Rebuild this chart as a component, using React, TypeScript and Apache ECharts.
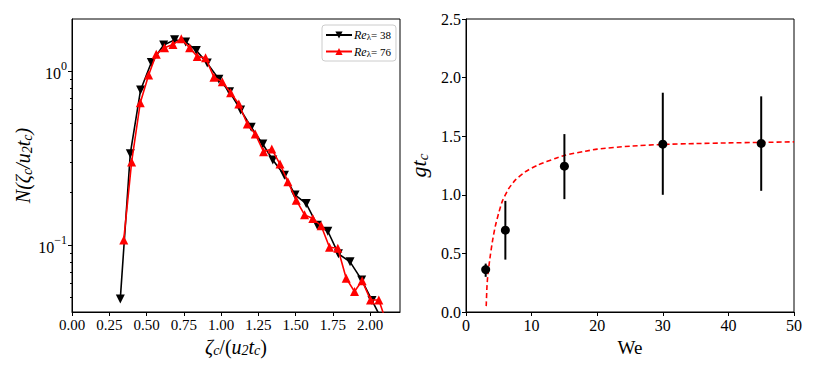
import React, { useEffect, useRef } from "react";
import * as echarts from "echarts";

// ---- Left panel data: N(zeta_c/(u2 tc)) ----
const zeta38 = [0.324, 0.391, 0.46, 0.532, 0.615, 0.688, 0.762, 0.834, 0.907, 0.985, 1.057, 1.131, 1.202, 1.28, 1.347, 1.425, 1.496, 1.571, 1.645, 1.716, 1.787, 1.865, 1.943, 2.012, 2.08];
const n38 = [0.049, 0.335, 0.778, 1.12, 1.41, 1.51, 1.47, 1.31, 1.11, 0.896, 0.76, 0.597, 0.475, 0.38, 0.308, 0.252, 0.194, 0.173, 0.13, 0.12, 0.089, 0.08, 0.063, 0.048, 0.037];
const zeta76 = [0.347, 0.4, 0.458, 0.514, 0.565, 0.621, 0.677, 0.733, 0.789, 0.84, 0.896, 0.952, 1.008, 1.064, 1.119, 1.176, 1.229, 1.285, 1.34, 1.395, 1.448, 1.504, 1.56, 1.615, 1.671, 1.727, 1.783, 1.839, 1.895, 1.946, 2.002, 2.058, 2.113];
const n76 = [0.107, 0.3, 0.657, 0.948, 1.25, 1.36, 1.42, 1.53, 1.36, 1.21, 1.19, 0.92, 0.868, 0.75, 0.646, 0.496, 0.435, 0.344, 0.356, 0.292, 0.231, 0.181, 0.149, 0.142, 0.129, 0.097, 0.0957, 0.0644, 0.054, 0.0624, 0.0483, 0.0483, 0.035];
const leftXTicks = [0, 0.25, 0.5, 0.75, 1.0, 1.25, 1.5, 1.75, 2.0];
const leftYMajor = [0.1, 1];
const leftYMinor = [0.05, 0.06, 0.07, 0.08, 0.09, 0.2, 0.3, 0.4, 0.5, 0.6, 0.7, 0.8, 0.9];
const legendNames = ["Re38", "Re76"];

// ---- Right panel data: g t_c vs We ----
const weValues = [3, 6, 15, 30, 45];
const gtc = [0.362, 0.698, 1.244, 1.432, 1.438];
const gtcLow = [0.3, 0.447, 0.963, 1.0, 1.034];
const gtcHigh = [0.413, 0.948, 1.518, 1.871, 1.84];
const fitWe = [3.08, 3.19, 3.3, 3.44, 3.7, 4.05, 4.46, 4.96, 5.57, 6.48, 7.5, 9.0, 11.0, 13.6, 15.1, 18.2, 20, 25, 30, 35, 40, 45, 50];
const fitG = [0.05, 0.21, 0.3, 0.37, 0.48, 0.61, 0.73, 0.84, 0.95, 1.05, 1.125, 1.195, 1.255, 1.31, 1.338, 1.372, 1.39, 1.415, 1.43, 1.437, 1.443, 1.447, 1.452];

const SERIF = "Liberation Serif";

const txt = (size: number, extra: any = {}) => ({ fontFamily: SERIF, fontSize: size, color: "#000", ...extra });

export default function App() {
  const ref = useRef<HTMLDivElement>(null);
  useEffect(() => {
    document.body.style.margin = "0";
    if (!ref.current) return;
    const chart = echarts.init(ref.current, null, { renderer: "svg" });
    const option: any = {
      animation: false,
      backgroundColor: "#fff",
      textStyle: { fontFamily: SERIF },
      grid: [
        { left: 72, top: 19, width: 328, height: 293, show: true, borderColor: "#000", borderWidth: 1, containLabel: false },
        { left: 466, top: 19, width: 328, height: 293, show: true, borderColor: "#000", borderWidth: 1, containLabel: false },
      ],
      legend: {
        data: legendNames,
        left: 322,
        top: 25,
        orient: "vertical",
        itemWidth: 26,
        itemHeight: 9,
        itemGap: 4,
        padding: [4, 5, 3, 3],
        borderColor: "#ccc",
        borderWidth: 1,
        borderRadius: 3,
        backgroundColor: "#fff",
        formatter: (name: string) => (name === "Re38" ? "{i|Re}{s|λ}{n|= 38}" : "{i|Re}{s|λ}{n|= 76}"),
        textStyle: {
          fontFamily: SERIF,
          fontSize: 11,
          color: "#000",
          padding: [0, 0, 0, -3],
          rich: {
            i: txt(12, { fontStyle: "italic", verticalAlign: "middle" }),
            s: txt(9, { verticalAlign: "bottom", padding: [4, 0, 0, 0] }),
            n: txt(11, { verticalAlign: "middle" }),
          },
        },
      },
      xAxis: [
        {
          gridIndex: 0,
          type: "value",
          min: 0,
          max: 2.2,
          splitLine: { show: false },
          axisLine: { show: true, lineStyle: { color: "#000", width: 1 } },
          axisTick: { show: true, length: 4, customValues: leftXTicks, lineStyle: { color: "#000" } },
          axisLabel: {
            margin: 5,
            customValues: leftXTicks,
            formatter: (v: number) => "{t|" + v.toFixed(2) + "}",
            rich: { t: txt(15) },
          },
          name: "{z|ζ}{s|c}{n|/(}{z|u}{s|2}{z|t}{s|c}{n|)}",
          nameLocation: "middle",
          nameGap: 23,
          nameTextStyle: {
            rich: {
              z: txt(20, { fontStyle: "italic", verticalAlign: "middle", lineHeight: 22 }),
              n: txt(20, { verticalAlign: "middle", lineHeight: 22 }),
              s: txt(14, { fontStyle: "italic", verticalAlign: "bottom", padding: [8, 0, 0, 0] }),
            },
          },
        },
        {
          gridIndex: 1,
          type: "value",
          min: 0,
          max: 50,
          interval: 10,
          splitLine: { show: false },
          axisLine: { show: true, lineStyle: { color: "#000", width: 1 } },
          axisTick: { show: true, length: 4, lineStyle: { color: "#000" } },
          axisLabel: { margin: 5, formatter: (v: number) => "{t|" + v + "}", rich: { t: txt(16) } },
          name: "{w|We}",
          nameLocation: "middle",
          nameGap: 21,
          nameTextStyle: { rich: { w: txt(19) } },
        },
      ],
      yAxis: [
        {
          gridIndex: 0,
          type: "log",
          min: 0.0412,
          max: 1.99,
          splitLine: { show: false },
          minorTick: { show: false },
          axisLine: { show: true, lineStyle: { color: "#000", width: 1 } },
          axisTick: { show: true, length: 4, customValues: leftYMajor, lineStyle: { color: "#000" } },
          axisLabel: {
            margin: 5,
            customValues: leftYMajor,
            formatter: (v: number) => {
              const e = Math.round(Math.log10(v));
              return "{b|10}{p|" + (e < 0 ? "−" + Math.abs(e) : String(e)) + "}";
            },
            rich: {
              b: txt(16, { verticalAlign: "bottom", lineHeight: 21 }),
              p: txt(12, { verticalAlign: "top" }),
            },
          },
          name: "{n|N(}{z|ζ}{s|c}{n|/}{z|u}{s|2}{z|t}{s|c}{n|)}",
          nameLocation: "middle",
          nameRotate: 90,
          nameGap: 36,
          nameTextStyle: {
            rich: {
              z: txt(20, { fontStyle: "italic", verticalAlign: "middle", lineHeight: 22 }),
              n: txt(20, { fontStyle: "italic", verticalAlign: "middle", lineHeight: 22 }),
              s: txt(14, { fontStyle: "italic", verticalAlign: "bottom", padding: [8, 0, 0, 0] }),
            },
          },
        },
        {
          gridIndex: 0,
          type: "log",
          min: 0.0412,
          max: 1.99,
          position: "left",
          splitLine: { show: false },
          axisLine: { show: false },
          axisTick: { show: true, length: 2, customValues: leftYMinor, lineStyle: { color: "#000" } },
          axisLabel: { show: false },
        },
        {
          gridIndex: 1,
          type: "value",
          min: 0,
          max: 2.5,
          interval: 0.5,
          splitLine: { show: false },
          axisLine: { show: true, lineStyle: { color: "#000", width: 1 } },
          axisTick: { show: true, length: 4, lineStyle: { color: "#000" } },
          axisLabel: { margin: 5, formatter: (v: number) => "{t|" + v.toFixed(1) + "}", rich: { t: txt(16) } },
          name: "{g|gt}{s|c}",
          nameLocation: "middle",
          nameRotate: 90,
          nameGap: 36,
          nameTextStyle: {
            rich: {
              g: txt(22, { fontStyle: "italic", verticalAlign: "middle", lineHeight: 24 }),
              s: txt(15, { fontStyle: "italic", verticalAlign: "bottom", padding: [8, 0, 0, 0] }),
            },
          },
        },
      ],
      series: [
        {
          name: "Re38",
          type: "line",
          xAxisIndex: 0,
          yAxisIndex: 0,
          data: zeta38.map((x, i) => [x, n38[i]]),
          symbol: "triangle",
          symbolRotate: 180,
          symbolSize: 9,
          color: "#000",
          lineStyle: { color: "#000", width: 1.6 },
          itemStyle: { color: "#000" },
          clip: true,
          z: 2,
        },
        {
          name: "Re76",
          type: "line",
          xAxisIndex: 0,
          yAxisIndex: 0,
          data: zeta76.map((x, i) => [x, n76[i]]),
          symbol: "triangle",
          symbolSize: 9,
          color: "#f00",
          lineStyle: { color: "#f00", width: 1.6 },
          itemStyle: { color: "#f00" },
          clip: true,
          z: 3,
        },
        {
          name: "fit",
          type: "line",
          xAxisIndex: 1,
          yAxisIndex: 2,
          data: fitWe.map((x, i) => [x, fitG[i]]),
          showSymbol: false,
          symbol: "none",
          smooth: 0.2,
          lineStyle: { color: "#f00", width: 1.6, type: [5, 3] },
          z: 2,
        },
        {
          name: "err",
          type: "custom",
          xAxisIndex: 1,
          yAxisIndex: 2,
          data: weValues.map((w, i) => [w, gtcLow[i], gtcHigh[i]]),
          encode: { x: 0, y: [1, 2] },
          renderItem: (params: any, api: any) => {
            const p1 = api.coord([api.value(0), api.value(1)]);
            const p2 = api.coord([api.value(0), api.value(2)]);
            return {
              type: "line",
              shape: { x1: p1[0], y1: p1[1], x2: p2[0], y2: p2[1] },
              style: { stroke: "#000", lineWidth: 2 },
            };
          },
          z: 3,
        },
        {
          name: "pts",
          type: "scatter",
          xAxisIndex: 1,
          yAxisIndex: 2,
          data: weValues.map((w, i) => [w, gtc[i]]),
          symbol: "circle",
          symbolSize: 9,
          itemStyle: { color: "#000", opacity: 1 },
          z: 4,
        },
      ],
    };
    chart.setOption(option);
    return () => chart.dispose();
  }, []);
  return <div ref={ref} style={{ width: 831, height: 365 }} />;
}
